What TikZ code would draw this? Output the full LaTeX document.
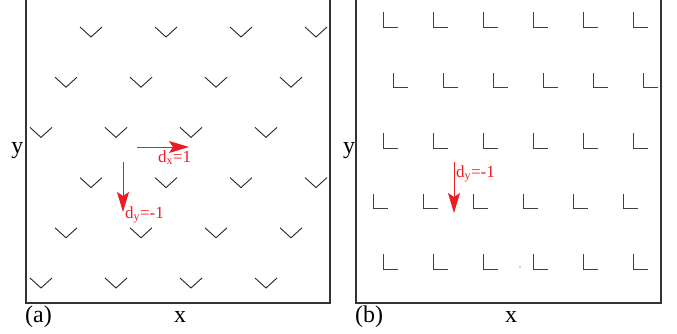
\documentclass[tikz,border=0pt]{standalone}
\usepackage{fontspec}
\setmainfont{Liberation Serif}
\usetikzlibrary{arrows.meta}
\definecolor{dred}{RGB}{236,28,36}

\begin{document}
\begin{tikzpicture}[x=1pt, y=-1pt,
      frame/.style={draw=black!80, line width=1.3pt},
      vmark/.style={draw=black!85, line width=0.9pt},
      lmark/.style={draw=black!75, line width=1pt},
      lab/.style={font=\fontsize{24}{24}\selectfont, inner sep=0pt, anchor=base},
      dlab/.style={font=\fontsize{17}{17}\selectfont, text=dred, inner sep=0pt, anchor=base west},
      arr/.style={-{Stealth[length=20pt, width=12pt, inset=4pt]}, draw=dred, line width=1pt}
  ]
    \clip (0,0) rectangle (677,333);
    % panel (a)
    \draw[frame] (26,-5) rectangle (330,303);
    \foreach \r in {0,...,5}
      \foreach \k in {0,...,3} {
        \pgfmathsetmacro\cx{91-25*mod(\r,3)+75*\k}
        \pgfmathsetmacro\cy{27+50.2*\r}
        \draw[vmark] (\cx-11,\cy) -- (\cx,\cy+10) -- (\cx+11,\cy);
      }
    \coordinate (dxs) at (137,147);
    \coordinate (dxe) at (189,147);
    \coordinate (dys) at (123,162);
    \coordinate (dye) at (123,212);
    \draw[arr] (dxs) -- (dxe);
    \draw[arr] (dys) -- (dye);
    \node[dlab] (dxa) at (158,162) {d\textsubscript{x}=1};
    \node[dlab] (dya) at (125,218) {d\textsubscript{y}=-1};
    \node[lab] (ya) at (17.5,153) {y};
    \node[lab, anchor=base west] (pa) at (25,322) {(a)};
    \node[lab] (xa) at (180,322) {x};
    % panel (b)
    \draw[frame] (356,-5) rectangle (661,303);
    \foreach \r/\s in {0/0,1/10,2/0,3/-10,4/0}
      \foreach \k in {0,...,5} {
        \pgfmathsetmacro\lx{383+\s+50*\k}
        \pgfmathsetmacro\ly{27+60.5*\r}
        \draw[lmark] (\lx,\ly-15) -- (\lx,\ly) -- (\lx+15,\ly);
      }
    \fill[black!70] (520,267) circle (0.6);
    \coordinate (dbs) at (454,162);
    \coordinate (dbe) at (454,213);
    \draw[arr] (dbs) -- (dbe);
    \node[dlab] (dyb) at (456,177) {d\textsubscript{y}=-1};
    \node[lab] (yb) at (349,153) {y};
    \node[lab, anchor=base west] (pb) at (355,322) {(b)};
    \node[lab] (xb) at (511,322) {x};
  \end{tikzpicture}
\end{document}
